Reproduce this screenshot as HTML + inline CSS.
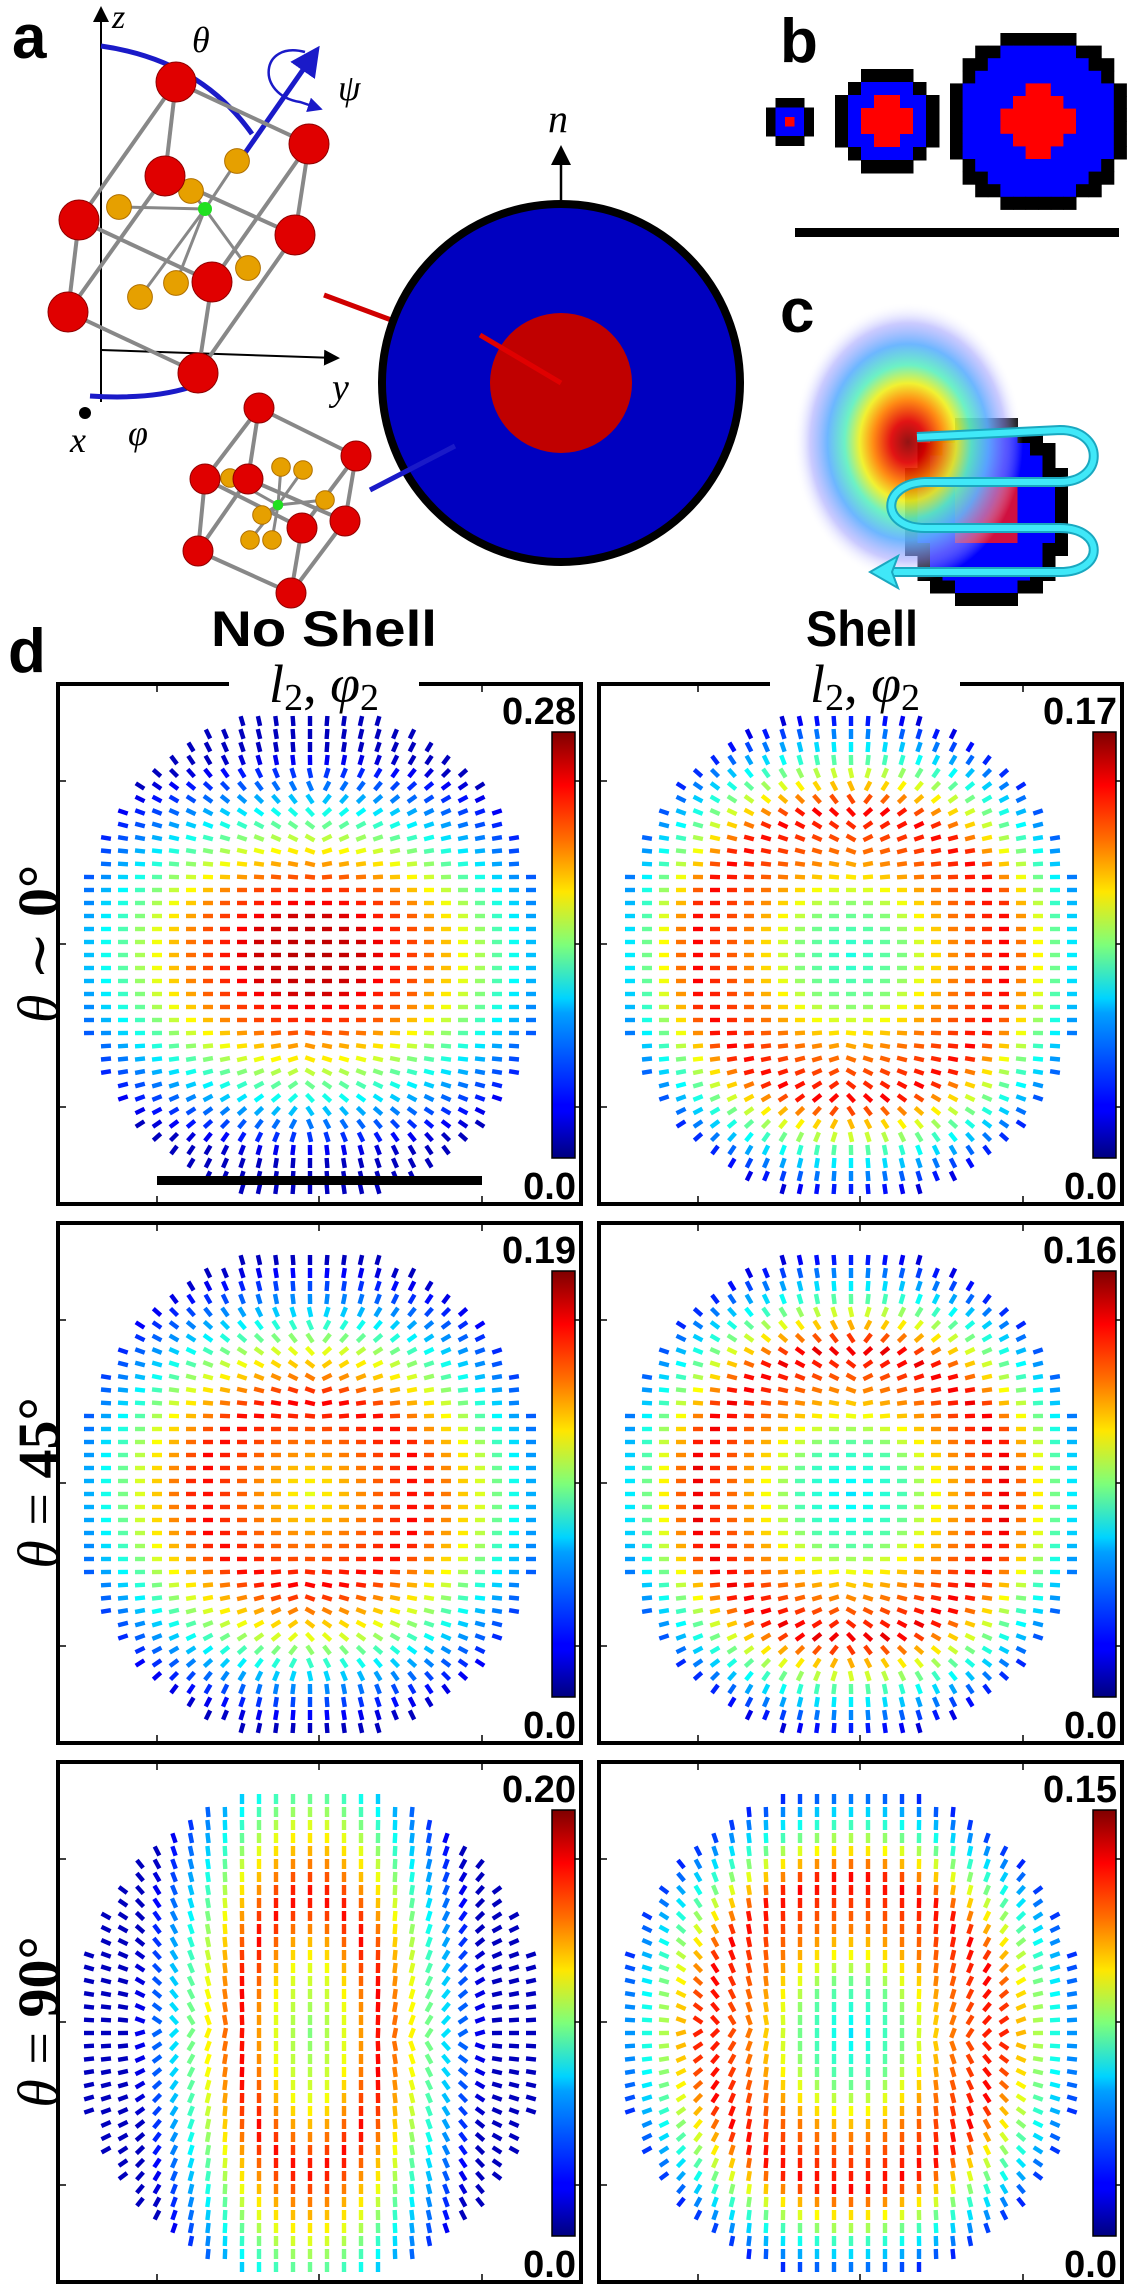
<!DOCTYPE html>
<html><head><meta charset="utf-8">
<style>
html,body{margin:0;padding:0;background:#fff;}
svg{display:block;}
.lbl{font-family:"Liberation Sans",sans-serif;font-weight:bold;}
.mth{font-family:"Liberation Serif","DejaVu Serif",serif;font-style:italic;}
.cbl{font-family:"Liberation Sans",sans-serif;font-weight:bold;font-size:38px;}
</style></head>
<body>
<svg id="fig" width="1128" height="2289" viewBox="0 0 1128 2289" xmlns="http://www.w3.org/2000/svg">
<defs>
<linearGradient id="jet" x1="0" y1="1" x2="0" y2="0">
<stop offset="0" stop-color="#00007f"/><stop offset="0.11" stop-color="#0000ff"/>
<stop offset="0.125" stop-color="#0000ff"/><stop offset="0.34" stop-color="#00a0ff"/>
<stop offset="0.375" stop-color="#00d4ff"/><stop offset="0.5" stop-color="#7dff7a"/>
<stop offset="0.625" stop-color="#ffe600"/><stop offset="0.75" stop-color="#ff6c00"/>
<stop offset="0.875" stop-color="#ff0000"/><stop offset="1" stop-color="#7f0000"/>
</linearGradient>
<radialGradient id="blob" cx="0.5" cy="0.5" r="0.5">
<stop offset="0" stop-color="#8a0000"/><stop offset="0.15" stop-color="#e00000"/>
<stop offset="0.3" stop-color="#ff8000"/><stop offset="0.42" stop-color="#f0f020"/>
<stop offset="0.55" stop-color="#60f0c0"/><stop offset="0.7" stop-color="#60b0ff"/>
<stop offset="0.85" stop-color="#a0a0ff" stop-opacity="0.6"/><stop offset="1" stop-color="#ffffff" stop-opacity="0"/>
</radialGradient>
<marker id="arr" markerWidth="8" markerHeight="8" refX="6" refY="4" orient="auto"><path d="M0,0 L8,4 L0,8 Z" fill="#000"/></marker>
<marker id="barr" markerWidth="6" markerHeight="6" refX="4" refY="3" orient="auto"><path d="M0,0 L6,3 L0,6 Z" fill="#1a1ac8"/></marker>
</defs>

<!-- Panel a -->
<g>
<text class="lbl" x="12" y="58" font-size="62">a</text>
<line x1="101" y1="402" x2="101" y2="10" stroke="#000" stroke-width="2" marker-end="url(#arr)"/>
<text class="mth" x="112" y="28" font-size="34">z</text>
<line x1="101" y1="350" x2="336" y2="358" stroke="#000" stroke-width="2" marker-end="url(#arr)"/>
<text class="mth" x="332" y="400" font-size="38">y</text>
<circle cx="85" cy="413" r="6" fill="#000"/>
<text class="mth" x="70" y="452" font-size="36">x</text>
<text class="mth" x="128" y="445" font-size="36">φ</text>
<text class="mth" x="192" y="52" font-size="36">θ</text>
<text class="mth" x="338" y="100" font-size="36">ψ</text>
<path d="M101,46 Q200,60 252,134" fill="none" stroke="#1a1ac8" stroke-width="5"/>
<path d="M90,396 Q150,400 191,387" fill="none" stroke="#1a1ac8" stroke-width="5"/>
<line x1="245" y1="153" x2="314" y2="54" stroke="#1a1ac8" stroke-width="5" marker-end="url(#barr)"/>
<path d="M305,52 C260,40 255,95 300,102 L318,108" fill="none" stroke="#1a1ac8" stroke-width="2.5" marker-end="url(#barr)"/>
<g id="cube1"></g>
<g id="cube2"></g>
<line x1="324" y1="295" x2="561" y2="383" stroke="#d00000" stroke-width="5"/>
<circle cx="561" cy="383" r="179" fill="#0000c0" stroke="#000" stroke-width="8"/>
<ellipse cx="561" cy="383" rx="71" ry="70" fill="#c00000"/>
<line x1="561" y1="383" x2="480" y2="335" stroke="#e00000" stroke-width="5"/>
<line x1="370" y1="490" x2="455" y2="446" stroke="#1a1ac8" stroke-width="5"/>
<line x1="561" y1="200" x2="561" y2="150" stroke="#000" stroke-width="2.5" marker-end="url(#arr)"/>
<text class="mth" x="548" y="132" font-size="40">n</text>
</g>

<!-- Panel b -->
<g>
<text class="lbl" x="780" y="62" font-size="62">b</text>
<g id="pixdisks"></g>
<rect x="795" y="228" width="324" height="9" fill="#000"/>
</g>

<!-- Panel c -->
<g>
<text class="lbl" x="780" y="332" font-size="62">c</text>
<g id="cdisk"></g>
<ellipse cx="908" cy="442" rx="115" ry="140" fill="url(#blob)" opacity="0.92"/>
<path d="M917,437 L1060,430 C1105,430 1105,482 1060,482 L925,482 C880,484 880,528 925,528 L1060,528 C1105,528 1105,572 1060,572 L888,572" fill="none" stroke="#1aa8c0" stroke-width="10"/>
<path d="M917,437 L1060,430 C1105,430 1105,482 1060,482 L925,482 C880,484 880,528 925,528 L1060,528 C1105,528 1105,572 1060,572 L888,572" fill="none" stroke="#40e8f8" stroke-width="6"/>
<path d="M870,572 L898,556 L892,572 L898,588 Z" fill="#40e8f8" stroke="#1aa8c0" stroke-width="2"/>
</g>

<!-- Panel d -->
<text class="lbl" x="8" y="672" font-size="62">d</text>
<text class="lbl" x="324" y="646" font-size="50" text-anchor="middle" textLength="226" lengthAdjust="spacingAndGlyphs">No Shell</text>
<text class="lbl" x="862" y="646" font-size="50" text-anchor="middle" textLength="112" lengthAdjust="spacingAndGlyphs">Shell</text>
<g id="panels"></g>
</svg>

<script>
// ---------- Quiver panel data ----------
const colTitles = ["No Shell", "Shell"];
const rowLabels = ["0°", "45°", "90°"];
const rowRel = ["∼", "=", "="];
const colorbarMax = ["0.28", "0.17", "0.19", "0.16", "0.20", "0.15"];
const colorbarMin = ["0.0", "0.0", "0.0", "0.0", "0.0", "0.0"];
// relative magnitude vs normalized radius at r = 0,0.2,0.4,0.6,0.8,1.0
const profileP1 = [0.95, 0.92, 0.78, 0.52, 0.26, 0.06];
const profileP2 = [0.40, 0.50, 0.75, 0.88, 0.45, 0.06];
const profileP3 = [0.60, 0.75, 0.88, 0.62, 0.30, 0.06];
const profileP4 = [0.35, 0.45, 0.72, 0.90, 0.45, 0.06];
const profileP5 = [0.50, 0.60, 0.88, 0.60, 0.30, 0.06];
const profileP6 = [0.35, 0.48, 0.75, 0.88, 0.45, 0.06];
const profiles = [profileP1, profileP2, profileP3, profileP4, profileP5, profileP6];
const stretchX = [0.85, 0.95, 0.9, 0.95, 1.4, 1.0];
const stretchY = [1.25, 1.05, 1.1, 1.05, 0.75, 1.0];
const orientMode = ["h", "h", "h", "h", "v", "v"];

const NS = "http://www.w3.org/2000/svg";
function mk(tag, attrs, parent) {
  const e = document.createElementNS(NS, tag);
  for (const k in attrs) e.setAttribute(k, attrs[k]);
  if (parent) parent.appendChild(e);
  return e;
}
function clamp(v){return Math.max(0, Math.min(1, v));}
function jet(t) {
  const r = clamp(1.5 - Math.abs(4*t - 3)), g = clamp(1.5 - Math.abs(4*t - 2)), b = clamp(1.5 - Math.abs(4*t - 1));
  return "rgb(" + Math.round(r*255) + "," + Math.round(g*255) + "," + Math.round(b*255) + ")";
}
function interp(arr, r) {
  const x = clamp(r) * (arr.length - 1);
  const i = Math.min(arr.length - 2, Math.floor(x));
  const f = x - i;
  return arr[i] * (1 - f) + arr[i+1] * f;
}

const panelsG = document.getElementById("panels");
const PX = [58, 599], PY = [684, 1223, 1762], PW = 523, PH = 520;
const DX = 17, DY = 13, RX = 236, RY = 246, SEG = 10;

for (let row = 0; row < 3; row++) {
  const cy = PY[row] + PH/2;
  const lab = mk("text", {x: 0, y: 0, "font-size": 58, "text-anchor": "middle",
    transform: "translate(58," + cy + ") rotate(-90)", "font-family": "Liberation Serif, DejaVu Serif, serif"}, panelsG);
  
  
  const t1 = mk("tspan", {"font-style": "italic"}, lab); t1.textContent = "θ";
  const t2 = mk("tspan", {}, lab); t2.textContent = " " + rowRel[row] + " ";
  const t3 = mk("tspan", {"font-weight": "bold"}, lab); t3.textContent = rowLabels[row];

  for (let col = 0; col < 2; col++) {
    const idx = row*2 + col;
    const x0 = PX[col], y0 = PY[row];
    const g = mk("g", {}, panelsG);
    
    
    const frame = mk("rect", {x: x0, y: y0, width: PW, height: PH, fill: "#fff", stroke: "#000", "stroke-width": 4}, g);
    
    
    [97, 260, 423].forEach(function(ty){
      const tl = mk("line", {x1: x0, y1: y0+ty, x2: x0+8, y2: y0+ty, stroke: "#000", "stroke-width": 1.5}, g);
      
      
      const tr = mk("line", {x1: x0+PW, y1: y0+ty, x2: x0+PW-8, y2: y0+ty, stroke: "#000", "stroke-width": 1.5}, g);
      
      
    });
    [99, 261, 424].forEach(function(tx){
      const tt = mk("line", {x1: x0+tx, y1: y0, x2: x0+tx, y2: y0+8, stroke: "#000", "stroke-width": 1.5}, g);
      
      
      const tb = mk("line", {x1: x0+tx, y1: y0+PH, x2: x0+tx, y2: y0+PH-8, stroke: "#000", "stroke-width": 1.5}, g);
      
      
    });
    const cx = x0 + 252, cyy = y0 + 271;
    const prof = profiles[idx];
    for (let i = -19; i <= 19; i++) {
      for (let j = -14; j <= 14; j++) {
        const u = j*DX / RX, v = i*DY / RY;
        const r = Math.sqrt(u*u + v*v);
        if (r > 1.0) continue;
        const re = Math.sqrt(Math.pow(u*stretchX[idx],2) + Math.pow(v*stretchY[idx],2));
        const mag = interp(prof, re / 1.05);
        const ar = (u === 0) ? Math.PI/2 : Math.atan(v/u);
        let ang;
        if (orientMode[idx] === "h") {
          const t = Math.pow(clamp((Math.abs(v) - 0.25) / 0.55), 1.3);
          ang = t * ar;
        } else {
          const t = Math.pow(clamp((Math.abs(u) - 0.25) / 0.55), 1.3);
          const d = ar > 0 ? ar - Math.PI/2 : ar + Math.PI/2;
          ang = Math.PI/2 + t*d;
        }
        const px = cx + j*DX, py = cyy + i*DY;
        const dx = Math.cos(ang)*SEG/2, dy = Math.sin(ang)*SEG/2;
        const s = mk("line", {x1: (px-dx).toFixed(1), y1: (py-dy).toFixed(1), x2: (px+dx).toFixed(1), y2: (py+dy).toFixed(1),
          stroke: jet(mag), "stroke-width": 4.4}, g);
        
        
      }
    }
    const cb = mk("rect", {x: x0+494, y: y0+48, width: 23, height: 426, fill: "url(#jet)", stroke: "#000", "stroke-width": 1.5}, g);
    
    
    const cmax = mk("text", {x: x0+518, y: y0+40, "text-anchor": "end", class: "cbl"}, g);
    cmax.textContent = colorbarMax[idx];
    
    
    const cmin = mk("text", {x: x0+518, y: y0+515, "text-anchor": "end", class: "cbl"}, g);
    cmin.textContent = colorbarMin[idx];
    
    
    if (row === 0) {
      const wb = mk("rect", {x: x0+171, y: y0-6, width: 190, height: 14, fill: "#fff"}, g);
      
      
      const tt = mk("text", {x: x0+266, y: y0+18, "text-anchor": "middle", "font-size": 54, "font-family": "Liberation Serif, DejaVu Serif, serif"}, g);
      
      
      const a = mk("tspan", {"font-style": "italic"}, tt); a.textContent = "l";
      const b = mk("tspan", {"font-size": 38, dy: 8}, tt); b.textContent = "2";
      const c = mk("tspan", {dy: -8}, tt); c.textContent = ", ";
      const d = mk("tspan", {"font-style": "italic"}, tt); d.textContent = "φ";
      const e = mk("tspan", {"font-size": 38, dy: 8}, tt); e.textContent = "2";
    }
    if (idx === 0) {
      const sb = mk("rect", {x: x0+99, y: y0+492, width: 325, height: 9, fill: "#000"}, g);
      
      
    }
  }
}

// ---------- Panel b pixel disks ----------
const pd = document.getElementById("pixdisks");
function pixDisk(ox, oy, n, s, R, Rin, name) {
  const g = mk("g", {}, pd);
  
  
  const c = (n-1)/2;
  for (let i = 0; i < n; i++) for (let j = 0; j < n; j++) {
    const d = Math.sqrt((i-c)*(i-c) + (j-c)*(j-c));
    if (d > R) continue;
    const col = d > R - 1.1 ? "#000" : (d < Rin ? "#ff0000" : "#0000ff");
    const p = mk("rect", {x: ox + j*s, y: oy + i*s, width: s+0.5, height: s+0.5, fill: col}, g);
    
    
  }
}
pixDisk(766, 98, 5, 9.5, 2.6, 0.6, "pixel-disk-small");
pixDisk(835, 69, 8, 13, 4.2, 1.6, "pixel-disk-medium");
pixDisk(950, 33, 14, 12.6, 7.2, 2.6, "pixel-disk-large");

// ---------- Panel c disk ----------
const cd = document.getElementById("cdisk");
(function(){
  const ox = 905, oy = 418, s = 12.5, nx = 13, ny = 15;
  for (let i = 0; i < ny; i++) for (let j = 0; j < nx; j++) {
    const du = (j - (nx-1)/2) / (nx/2), dv = (i - (ny-1)/2) / (ny/2);
    const d = Math.sqrt(du*du + dv*dv);
    if (d > 1.02) continue;
    const col = d > 0.86 ? "#000" : (Math.abs(du) < 0.35 && Math.abs(dv) < 0.3 ? "#d01040" : "#0000ff");
    const p = mk("rect", {x: ox + j*s, y: oy + i*s, width: s+0.5, height: s+0.5, fill: col}, cd);
    
    
  }
})();

// ---------- Panel a unit cells ----------
function cube(gid, corners, edges, golds, green, rr) {
  const g = document.getElementById(gid);
  edges.forEach(function(e){
    const a = corners[e[0]], b = corners[e[1]];
    const l = mk("line", {x1: a[0], y1: a[1], x2: b[0], y2: b[1], stroke: "#888", "stroke-width": 4}, g);
    
    
  });
  golds.forEach(function(p){
    const l = mk("line", {x1: p[0], y1: p[1], x2: green[0], y2: green[1], stroke: "#888", "stroke-width": 3}, g);
    
    
  });
  golds.forEach(function(p){
    const c = mk("circle", {cx: p[0], cy: p[1], r: rr*0.62, fill: "#e6a000", stroke: "#b07000", "stroke-width": 1}, g);
    
    
  });
  const gc = mk("circle", {cx: green[0], cy: green[1], r: rr*0.35, fill: "#20e020"}, g);
  
  
  corners.forEach(function(p){
    const c = mk("circle", {cx: p[0], cy: p[1], r: rr, fill: "#e00000", stroke: "#900000", "stroke-width": 1}, g);
    
    
  });
}
cube("cube1",
  [[176,82],[309,144],[165,176],[295,235],[79,220],[212,282],[68,312],[198,373]],
  [[0,1],[0,2],[1,3],[2,3],[0,4],[1,5],[2,6],[3,7],[4,5],[4,6],[5,7],[6,7]],
  [[237,161],[119,207],[191,191],[248,268],[176,283],[140,297]], [205,209], 20);
cube("cube2",
  [[259,408],[356,456],[205,479],[302,528],[248,479],[345,521],[198,551],[291,593]],
  [[0,1],[0,4],[1,5],[4,5],[0,2],[1,3],[2,3],[2,6],[3,7],[6,7],[4,6],[5,7]],
  [[281,467],[303,470],[230,478],[262,515],[250,540],[272,540],[325,500]], [278,505], 15);
</script>
</body></html>
